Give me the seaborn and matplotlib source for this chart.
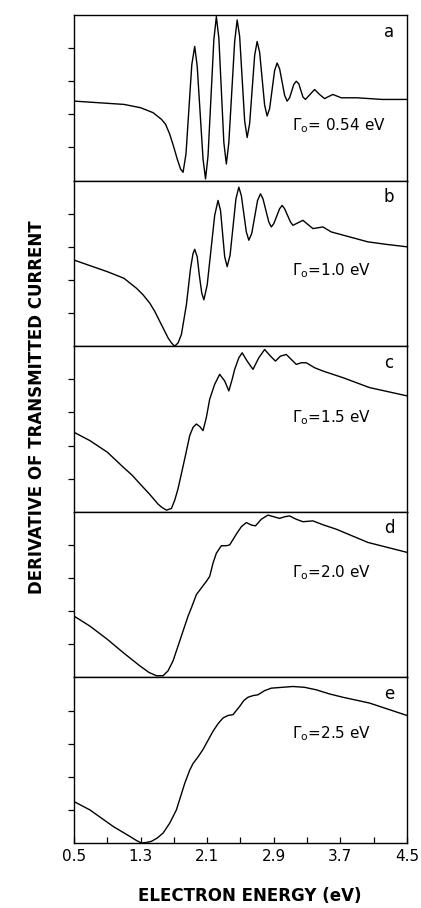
import matplotlib
matplotlib.use("Agg")
import matplotlib.pyplot as plt
import seaborn as sns

# ==========================================
# Data (energy in eV, derivative normalised 0..1)
# ==========================================
energy_a = [0.5, 0.8, 1.1, 1.3, 1.45, 1.55, 1.60, 1.65, 1.70, 1.74, 1.78, 1.81,
            1.845, 1.88, 1.915, 1.95, 1.98, 2.015, 2.05, 2.08, 2.11, 2.145, 2.18, 2.21,
            2.24, 2.27, 2.30, 2.33, 2.36, 2.395, 2.43, 2.46, 2.49, 2.52, 2.55, 2.58,
            2.61, 2.64, 2.67, 2.70, 2.73, 2.76, 2.79, 2.82, 2.85, 2.88, 2.91, 2.94,
            2.97, 3.00, 3.03, 3.06, 3.09, 3.115, 3.14, 3.17, 3.20, 3.225, 3.25, 3.28,
            3.335, 3.39, 3.45, 3.51, 3.56, 3.61, 3.71, 3.9, 4.2, 4.5]
deriv_a = [0.48, 0.47, 0.46, 0.44, 0.41, 0.37, 0.34, 0.28, 0.20, 0.13, 0.07, 0.05,
           0.16, 0.43, 0.70, 0.81, 0.69, 0.41, 0.13, 0.01, 0.15, 0.50, 0.85, 0.99,
           0.86, 0.545, 0.23, 0.10, 0.23, 0.535, 0.84, 0.97, 0.87, 0.615, 0.36, 0.26,
           0.345, 0.55, 0.755, 0.84, 0.775, 0.615, 0.455, 0.39, 0.435, 0.55, 0.665, 0.71,
           0.675, 0.595, 0.515, 0.48, 0.50, 0.54, 0.58, 0.60, 0.585, 0.545, 0.505, 0.49,
           0.52, 0.55, 0.52, 0.495, 0.508, 0.52, 0.50, 0.50, 0.49, 0.49]

energy_b = [0.5, 0.7, 0.9, 1.1, 1.25, 1.33, 1.41, 1.47, 1.53, 1.58, 1.63, 1.67, 1.71,
            1.75, 1.79, 1.85, 1.90, 1.93, 1.95, 1.98, 2.005, 2.035, 2.06, 2.10, 2.145,
            2.19, 2.23, 2.26, 2.285, 2.31, 2.34, 2.375, 2.41, 2.445, 2.48, 2.51, 2.54,
            2.57, 2.60, 2.635, 2.67, 2.705, 2.74, 2.77, 2.805, 2.84, 2.87, 2.90, 2.935,
            2.97, 3.00, 3.03, 3.065, 3.10, 3.13, 3.19, 3.25, 3.31, 3.37, 3.43, 3.49,
            3.59, 3.81, 4.03, 4.25, 4.5]
deriv_b = [0.52, 0.485, 0.45, 0.41, 0.35, 0.31, 0.26, 0.21, 0.15, 0.10, 0.05, 0.02, 0.00,
           0.02, 0.07, 0.25, 0.47, 0.56, 0.585, 0.54, 0.43, 0.32, 0.28, 0.37, 0.58,
           0.79, 0.88, 0.82, 0.68, 0.54, 0.48, 0.55, 0.72, 0.89, 0.96, 0.91, 0.80,
           0.69, 0.64, 0.68, 0.78, 0.88, 0.92, 0.89, 0.82, 0.75, 0.72, 0.74, 0.785,
           0.83, 0.85, 0.83, 0.79, 0.75, 0.73, 0.745, 0.76, 0.735, 0.71, 0.715, 0.72,
           0.69, 0.66, 0.63, 0.615, 0.60]

energy_c = [0.5, 0.69, 0.9, 1.09, 1.2, 1.29, 1.41, 1.51, 1.56, 1.61, 1.67, 1.71, 1.75,
            1.79, 1.83, 1.89, 1.93, 1.97, 2.01, 2.05, 2.09, 2.13, 2.19, 2.25, 2.31,
            2.36, 2.40, 2.43, 2.48, 2.52, 2.58, 2.65, 2.72, 2.79, 2.86, 2.92, 2.98,
            3.05, 3.11, 3.17, 3.23, 3.29, 3.39, 3.49, 3.73, 4.05, 4.5]
deriv_c = [0.48, 0.43, 0.36, 0.27, 0.22, 0.17, 0.105, 0.046, 0.025, 0.01, 0.02, 0.07, 0.14,
           0.23, 0.32, 0.46, 0.51, 0.53, 0.515, 0.49, 0.57, 0.68, 0.77, 0.83, 0.79,
           0.73, 0.80, 0.86, 0.93, 0.96, 0.91, 0.86, 0.93, 0.98, 0.94, 0.91, 0.94,
           0.95, 0.92, 0.89, 0.90, 0.90, 0.87, 0.85, 0.81, 0.75, 0.70]

energy_d = [0.5, 0.69, 0.9, 1.09, 1.29, 1.40, 1.49, 1.57, 1.63, 1.69, 1.75, 1.81, 1.87,
            1.91, 1.97, 2.03, 2.09, 2.13, 2.17, 2.21, 2.27, 2.33, 2.37, 2.45, 2.51,
            2.57, 2.63, 2.68, 2.75, 2.83, 2.90, 2.97, 3.03, 3.09, 3.17, 3.25, 3.37,
            3.50, 3.65, 4.03, 4.5]
deriv_d = [0.37, 0.31, 0.23, 0.15, 0.07, 0.03, 0.01, 0.01, 0.04, 0.10, 0.19, 0.28, 0.37,
           0.42, 0.50, 0.54, 0.58, 0.61, 0.69, 0.75, 0.795, 0.795, 0.80, 0.865, 0.91,
           0.935, 0.92, 0.915, 0.955, 0.98, 0.97, 0.96, 0.97, 0.975, 0.955, 0.94, 0.945,
           0.92, 0.895, 0.815, 0.755]

energy_e = [0.5, 0.69, 0.97, 1.07, 1.17, 1.25, 1.31, 1.37, 1.43, 1.50, 1.57, 1.65, 1.73,
            1.78, 1.83, 1.89, 1.93, 1.99, 2.05, 2.11, 2.17, 2.23, 2.29, 2.35, 2.41,
            2.45, 2.49, 2.54, 2.59, 2.65, 2.71, 2.79, 2.87, 3.0, 3.13, 3.27, 3.41,
            3.57, 3.73, 4.05, 4.5]
deriv_e = [0.25, 0.20, 0.10, 0.07, 0.04, 0.015, 0.00, 0.003, 0.01, 0.03, 0.06, 0.12, 0.20,
           0.28, 0.36, 0.44, 0.48, 0.52, 0.565, 0.62, 0.675, 0.72, 0.755, 0.77, 0.775,
           0.80, 0.825, 0.86, 0.88, 0.89, 0.895, 0.92, 0.935, 0.94, 0.945, 0.94, 0.925,
           0.90, 0.88, 0.845, 0.77]

panel_letters = ["a", "b", "c", "d", "e"]
gamma_labels = [r"$\Gamma_{\mathrm{o}}$= 0.54 eV", r"$\Gamma_{\mathrm{o}}$=1.0 eV",
                r"$\Gamma_{\mathrm{o}}$=1.5 eV", r"$\Gamma_{\mathrm{o}}$=2.0 eV",
                r"$\Gamma_{\mathrm{o}}$=2.5 eV"]
gamma_y = [0.33, 0.455, 0.57, 0.63, 0.66]
xtick_major = [0.5, 1.3, 2.1, 2.9, 3.7, 4.5]
xtick_minor = [0.9, 1.7, 2.5, 3.3, 4.1]
ytick_pos = [0.2, 0.4, 0.6, 0.8]

series = [(energy_a, deriv_a), (energy_b, deriv_b), (energy_c, deriv_c),
          (energy_d, deriv_d), (energy_e, deriv_e)]

# ==========================================
# Figure
# ==========================================
sns.set_theme(style="ticks")
plt.rcParams["font.family"] = ["DejaVu Sans"]
plt.rcParams["mathtext.fontset"] = "dejavusans"

fig, axes = plt.subplots(5, 1, figsize=(4.21, 9.08), dpi=100, sharex=True)
fig.subplots_adjust(left=0.1758, right=0.9667, bottom=0.0716, top=0.9835, hspace=0)

for i, ax in enumerate(axes):
    xs, ys = series[i]
    sns.lineplot(x=xs, y=ys, ax=ax, color="black", linewidth=1.0, estimator=None)
    ax.set_xlim(0.5, 4.5)
    ax.set_ylim(0, 1)
    for side in ["left", "right", "top", "bottom"]:
        ax.spines[side].set_visible(True)
        ax.spines[side].set_linewidth(1.0)
        ax.spines[side].set_color("black")
    ax.set_yticks(ytick_pos)
    ax.tick_params(axis="y", direction="out", length=4, width=0.9, labelleft=False, color="black")
    ax.set_ylabel("")
    ax.text(0.946, 0.90, panel_letters[i], transform=ax.transAxes, ha="center", va="center",
            fontsize=12, color="black")
    ax.text(0.655, gamma_y[i], gamma_labels[i], transform=ax.transAxes, ha="left",
            va="center", fontsize=11, color="black")

bottom = axes[-1]
bottom.set_xticks(xtick_major)
bottom.set_xticks(xtick_minor, minor=True)
bottom.set_xticklabels([f"{v:.1f}" for v in xtick_major])
for ax in axes:
    ax.tick_params(axis="x", which="both", direction="in", length=4, width=0.9,
                   color="black", bottom=(ax is bottom), labelbottom=(ax is bottom))
bottom.tick_params(axis="x", labelsize=11, pad=4, labelcolor="black")

fig.text(0.088, 0.552, "DERIVATIVE OF TRANSMITTED CURRENT", rotation=90,
         ha="center", va="center", fontsize=12, fontweight="heavy", color="black")
fig.text(0.594, 0.0132, "ELECTRON ENERGY (eV)", ha="center", va="center",
         fontsize=12, fontweight="heavy", color="black")

fig.savefig("out.png", dpi=100)
